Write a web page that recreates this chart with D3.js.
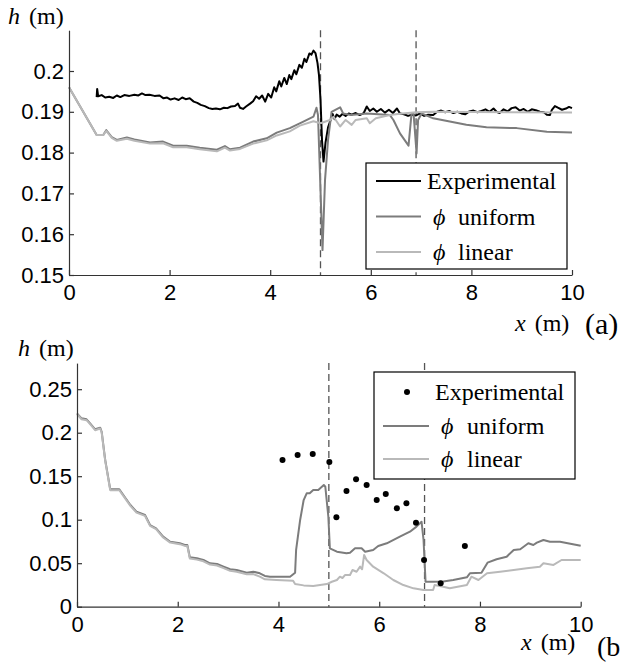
<!DOCTYPE html>
<html>
<head>
<meta charset="utf-8">
<script src="https://cdn.jsdelivr.net/npm/d3@7"></script>
<style>
  body { margin: 0; background: #fff; }
  svg { display: block; }
</style>
</head>
<body>
<script>
// (a) maalt vandstand langs kanalen, x (m) og h (m)
const topExp = [[0.55,0.1936],[0.56,0.1956],[0.58,0.1938],[0.65,0.1941],[0.72,0.1935],[0.8,0.1937],[0.88,0.1934],[0.95,0.1940],[1.02,0.1936],[1.1,0.1941],[1.2,0.1939],[1.3,0.1942],[1.38,0.1940],[1.45,0.1945],[1.52,0.1941],[1.6,0.1942],[1.7,0.1939],[1.8,0.1940],[1.88,0.1933],[1.95,0.1935],[2.02,0.1930],[2.1,0.1933],[2.18,0.1929],[2.25,0.1935],[2.32,0.1931],[2.4,0.1933],[2.48,0.1925],[2.55,0.1922],[2.62,0.1917],[2.7,0.1914],[2.78,0.1909],[2.85,0.1907],[2.92,0.1908],[3.0,0.1906],[3.08,0.1910],[3.15,0.1909],[3.22,0.1913],[3.3,0.1914],[3.36,0.1920],[3.4,0.1910],[3.46,0.1907],[3.52,0.1913],[3.6,0.1920],[3.66,0.1926],[3.72,0.1938],[3.78,0.1932],[3.84,0.1940],[3.9,0.1925],[3.96,0.1944],[4.02,0.1935],[4.08,0.1960],[4.12,0.1950],[4.18,0.1975],[4.22,0.1962],[4.28,0.1983],[4.33,0.1968],[4.38,0.1990],[4.42,0.1980],[4.48,0.2002],[4.52,0.1992],[4.58,0.2015],[4.63,0.2008],[4.68,0.2030],[4.72,0.2022],[4.78,0.2043],[4.82,0.2040],[4.86,0.2050],[4.9,0.2044],[4.94,0.2020],[4.97,0.1990],[5.0,0.1930],[5.03,0.1830],[5.06,0.1778],[5.1,0.1825],[5.15,0.1862],[5.2,0.1880],[5.24,0.1895],[5.28,0.1882],[5.32,0.1893],[5.38,0.1888],[5.44,0.1895],[5.5,0.1890],[5.56,0.1896],[5.62,0.1893],[5.7,0.1897],[5.78,0.1892],[5.86,0.1897],[5.92,0.1913],[5.98,0.1902],[6.05,0.1908],[6.12,0.1900],[6.2,0.1907],[6.28,0.1898],[6.36,0.1905],[6.44,0.1897],[6.52,0.1908],[6.58,0.1896],[6.66,0.1894],[6.74,0.1890],[6.82,0.1893],[6.9,0.1891],[6.98,0.1896],[7.06,0.1890],[7.14,0.1893],[7.24,0.1892],[7.32,0.1900],[7.4,0.1903],[7.48,0.1899],[7.56,0.1902],[7.64,0.1897],[7.72,0.1900],[7.8,0.1896],[7.88,0.1894],[7.96,0.1901],[8.04,0.1903],[8.12,0.1899],[8.2,0.1902],[8.28,0.1906],[8.36,0.1900],[8.44,0.1908],[8.5,0.1900],[8.56,0.1897],[8.64,0.1906],[8.72,0.1901],[8.8,0.1909],[8.88,0.1911],[8.96,0.1903],[9.04,0.1907],[9.12,0.1900],[9.2,0.1906],[9.28,0.1904],[9.36,0.1900],[9.44,0.1899],[9.5,0.1893],[9.56,0.1892],[9.6,0.1905],[9.66,0.1914],[9.72,0.1910],[9.8,0.1905],[9.88,0.1908],[9.94,0.1912],[10,0.1909]];

const topUniform = [[0,0.196],[0.55,0.1843],[0.68,0.1843],[0.74,0.1855],[0.85,0.1838],[0.95,0.1831],[1.15,0.1837],[1.3,0.1832],[1.61,0.1825],[1.87,0.1827],[2.07,0.1817],[2.34,0.1817],[2.6,0.1812],[2.94,0.1807],[3.1,0.1816],[3.2,0.1808],[3.4,0.1812],[3.66,0.1827],[3.93,0.1835],[4.13,0.1849],[4.39,0.186],[4.66,0.1876],[4.86,0.1888],[4.92,0.191],[4.95,0.1892],[5.04,0.1561],[5.09,0.1733],[5.15,0.1831],[5.22,0.19],[5.39,0.1911],[5.45,0.1896],[5.6,0.1892],[5.92,0.1896],[6.38,0.1892],[6.45,0.188],[6.58,0.1847],[6.75,0.1817],[6.81,0.1896],[6.85,0.1896],[6.91,0.1798],[6.94,0.188],[7.01,0.1896],[7.24,0.1884],[7.9,0.1868],[8.3,0.1862],[8.9,0.186],[9.5,0.1851],[10,0.1849]];

const topLinear = [[0,0.196],[0.55,0.1843],[0.68,0.1843],[0.74,0.1853],[0.85,0.1836],[0.95,0.1829],[1.15,0.1834],[1.3,0.1829],[1.61,0.1822],[1.87,0.1823],[2.07,0.1813],[2.34,0.1813],[2.6,0.1808],[2.94,0.1803],[3.1,0.1812],[3.2,0.1805],[3.4,0.1809],[3.66,0.1822],[3.93,0.1830],[4.13,0.1842],[4.39,0.1852],[4.59,0.1866],[4.86,0.1877],[5.0,0.1872],[5.19,0.188],[5.26,0.1888],[5.39,0.1864],[5.5,0.188],[5.62,0.1868],[5.7,0.188],[5.92,0.1884],[5.98,0.1872],[6.1,0.1884],[6.38,0.1892],[6.58,0.1895],[6.9,0.1899],[7.24,0.19],[10,0.1898]];

// (b)
const botExp = [[4.08,0.1686],[4.38,0.1744],[4.68,0.1755],[5.01,0.1663],[5.15,0.1028],[5.35,0.133],[5.54,0.1464],[5.75,0.1399],[5.95,0.1226],[6.13,0.1295],[6.35,0.1131],[6.54,0.1188],[6.73,0.0966],[6.89,0.0537],[7.22,0.0269],[7.7,0.0698]];

const botUniform = [[0,0.2223],[0.09,0.2165],[0.19,0.2154],[0.26,0.2108],[0.36,0.2039],[0.46,0.2058],[0.49,0.2011],[0.56,0.1686],[0.66,0.1349],[0.84,0.1349],[0.92,0.1284],[1.06,0.1169],[1.18,0.1092],[1.35,0.1054],[1.45,0.0939],[1.57,0.0901],[1.71,0.0805],[1.85,0.0747],[2.04,0.0729],[2.14,0.0709],[2.19,0.0709],[2.24,0.0568],[2.38,0.0556],[2.51,0.0537],[2.64,0.0499],[2.78,0.0491],[2.91,0.046],[3.04,0.043],[3.17,0.0422],[3.37,0.0391],[3.5,0.0402],[3.63,0.0384],[3.73,0.0353],[3.83,0.0345],[4.23,0.0345],[4.33,0.0391],[4.35,0.0652],[4.43,0.0997],[4.5,0.1226],[4.56,0.1303],[4.62,0.1303],[4.69,0.1341],[4.79,0.1341],[4.9,0.1399],[4.93,0.1379],[4.99,0.1034],[5.02,0.0671],[5.16,0.0632],[5.35,0.0614],[5.42,0.0621],[5.52,0.0671],[5.65,0.0671],[5.72,0.0632],[5.88,0.0652],[5.98,0.0698],[6.15,0.0729],[6.41,0.0805],[6.61,0.0862],[6.74,0.092],[6.84,0.0977],[6.88,0.0767],[6.92,0.0287],[7.07,0.0287],[7.27,0.029],[7.47,0.0307],[7.74,0.0338],[7.8,0.0384],[8.03,0.0391],[8.15,0.0506],[8.33,0.0545],[8.53,0.0575],[8.67,0.0652],[8.8,0.066],[8.96,0.0729],[9.06,0.0709],[9.13,0.0736],[9.26,0.0767],[9.39,0.0747],[9.59,0.0747],[10,0.0701]];

const botLinear = [[0,0.2213],[0.09,0.2155],[0.19,0.2144],[0.26,0.2098],[0.36,0.2029],[0.46,0.2048],[0.49,0.2001],[0.56,0.1676],[0.66,0.1339],[0.84,0.1339],[0.92,0.1274],[1.06,0.1159],[1.18,0.1082],[1.35,0.1044],[1.45,0.0929],[1.57,0.0891],[1.71,0.0795],[1.85,0.0737],[2.04,0.0719],[2.14,0.0699],[2.19,0.0699],[2.24,0.0553],[2.38,0.0541],[2.51,0.0522],[2.64,0.0484],[2.78,0.0474],[2.91,0.0443],[3.04,0.0412],[3.17,0.0402],[3.37,0.0372],[3.5,0.0375],[3.63,0.0345],[3.73,0.0315],[3.96,0.0307],[4.29,0.0299],[4.33,0.026],[4.5,0.0245],[4.69,0.0238],[4.96,0.026],[5.06,0.0287],[5.16,0.0307],[5.22,0.0345],[5.27,0.033],[5.32,0.0364],[5.42,0.0364],[5.47,0.0422],[5.55,0.0402],[5.62,0.046],[5.66,0.043],[5.7,0.0594],[5.75,0.0537],[5.88,0.046],[6.09,0.0384],[6.28,0.0307],[6.48,0.0249],[6.68,0.0211],[6.88,0.0192],[7.07,0.0192],[7.1,0.0249],[7.27,0.023],[7.4,0.0211],[7.74,0.0249],[7.83,0.0345],[7.97,0.0307],[8.14,0.0384],[8.4,0.0402],[8.67,0.0422],[8.93,0.0441],[9.19,0.046],[9.26,0.0499],[9.46,0.048],[9.62,0.0537],[10,0.0537]];

const xTicks = [0, 2, 4, 6, 8, 10];
const topYTicks = [0.15, 0.16, 0.17, 0.18, 0.19, 0.2];
const botYTicks = [0, 0.05, 0.1, 0.15, 0.2, 0.25];
const interfaces = [5.0, 6.9];
const seriesNames = ["Experimental", "uniform", "linear"];

const farveExp = "#000", farveUni = "#7c7c7c", farveLin = "#b9b9b9";

const svg = d3.select("body").append("svg").attr("width", 625).attr("height", 664);

function tegnPanel(opt) {
  const x = d3.scaleLinear().domain([0, 10]).range(opt.xr);
  const y = d3.scaleLinear().domain(opt.yd).range(opt.yr);
  const g = svg.append("g");

  // stiplede linjer ved overgangene
  g.selectAll("line.dash").data(interfaces).enter().append("line")
    .attr("x1", d => x(d)).attr("x2", d => x(d))
    .attr("y1", opt.yr[1]).attr("y2", opt.yr[0])
    .attr("stroke", "#555").attr("stroke-width", 1.3)
    .attr("stroke-dasharray", "7,4");

  const line = d3.line().x(d => x(d[0])).y(d => y(d[1]));
  opt.lines.forEach(l => {
    g.append("path").datum(l.data).attr("d", line)
      .attr("fill", "none").attr("stroke", l.color)
      .attr("stroke-width", l.w || 2).attr("stroke-linejoin", "round");
  });
  if (opt.dots) {
    g.selectAll("circle.dot").data(opt.dots).enter().append("circle")
      .attr("cx", d => x(d[0])).attr("cy", d => y(d[1])).attr("r", 3)
      .attr("fill", "#000");
  }

  const ax = g.append("g").attr("transform", `translate(0,${opt.yr[0]})`)
    .call(d3.axisBottom(x).tickValues(xTicks).tickSizeInner(-5).tickSizeOuter(0)
      .tickPadding(opt.xpad).tickFormat(d => String(d)));
  const ay = g.append("g").attr("transform", `translate(${opt.xr[0]},0)`)
    .call(d3.axisLeft(y).tickValues(opt.yticks).tickSizeInner(-5).tickSizeOuter(0)
      .tickPadding(5).tickFormat(d => String(d)));
  [ax, ay].forEach(a => {
    a.selectAll("text").attr("font-family", "Liberation Sans, Arial, sans-serif")
      .attr("font-size", 22).attr("fill", "#000");
    a.selectAll("path, line").attr("stroke", "#333").attr("stroke-width", 1.2);
  });

  // legende
  const lg = g.append("g");
  const b = opt.legend;
  lg.append("rect").attr("x", b.x).attr("y", b.y).attr("width", b.w).attr("height", b.h)
    .attr("fill", "#fff").attr("stroke", "#000").attr("stroke-width", 1.2);
  const farver = [farveExp, farveUni, farveLin];
  seriesNames.forEach((n, i) => {
    const cy = b.rows[i];
    if (i === 0 && opt.dots) {
      lg.append("circle").attr("cx", b.dotX).attr("cy", cy).attr("r", 3).attr("fill", "#000");
    } else {
      lg.append("line").attr("x1", b.lx1).attr("x2", b.lx2).attr("y1", cy).attr("y2", cy)
        .attr("stroke", farver[i]).attr("stroke-width", 2);
    }
    const t = lg.append("text").attr("x", i === 0 ? b.tx : b.px).attr("y", cy + 8)
      .attr("font-family", "Liberation Serif, Times New Roman, serif").attr("font-size", 24);
    if (i === 0) t.text(n);
    else {
      t.append("tspan").attr("font-style", "italic").text("\u03D5");
      t.append("tspan").attr("x", b.ux).text(n);
    }
  });
}

tegnPanel({
  xr: [69, 572], yr: [275, 30.2], yd: [0.15, 0.21], yticks: topYTicks, xpad: 9,
  lines: [
    { data: topExp, color: farveExp },
    { data: topUniform, color: farveUni },
    { data: topLinear, color: farveLin }
  ],
  legend: { x: 366, y: 163, w: 201, h: 106, rows: [181, 216.5, 252], lx1: 376, lx2: 421,
            tx: 427, px: 433, ux: 458 }
});

tegnPanel({
  xr: [77, 580.7], yr: [606.7, 363.1], yd: [0, 0.28], yticks: botYTicks, xpad: 10,
  lines: [
    { data: botUniform, color: farveUni },
    { data: botLinear, color: farveLin }
  ],
  dots: botExp,
  legend: { x: 374, y: 372, w: 201, h: 107, rows: [392, 426, 459], lx1: 383, lx2: 429,
            dotX: 407, tx: 435, px: 441, ux: 467 }
});

// aksetitler
const serif = "Liberation Serif, Times New Roman, serif";
function titel(xp, yp, it, rest, size) {
  const t = svg.append("text").attr("x", xp).attr("y", yp)
    .attr("font-family", serif).attr("font-size", size || 24);
  t.append("tspan").attr("font-style", "italic").text(it);
  t.append("tspan").attr("dx", 9).text(rest);
}
titel(8, 24, "h", "(m)");
titel(18, 356, "h", "(m)");
titel(515, 331, "x", "(m)");
titel(521, 650, "x", "(m)");
svg.append("text").attr("x", 585).attr("y", 334).attr("font-family", serif)
  .attr("font-size", 30).text("(a)");
// i forlaegget er panelmaerket skaaret af ved kanten: kun "(b" ses
svg.append("text").attr("x", 597).attr("y", 656).attr("font-family", serif)
  .attr("font-size", 28).text("(b");
</script>
</body>
</html>
